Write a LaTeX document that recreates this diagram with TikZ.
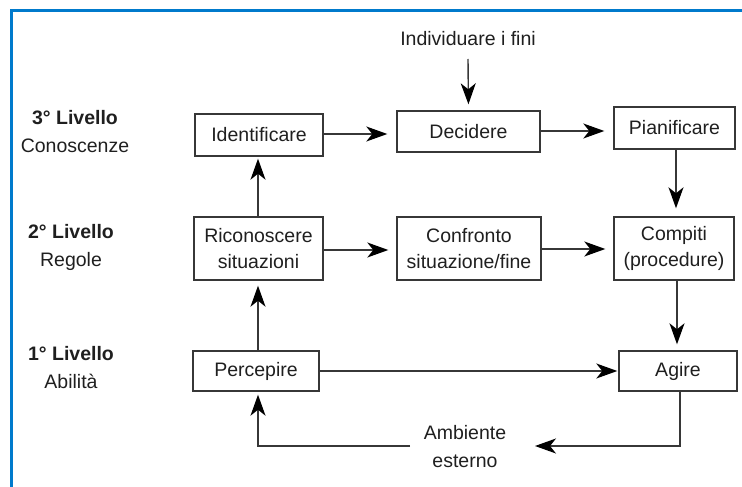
\documentclass[tikz,border=0pt]{standalone}
\usepackage{fontspec}
\setmainfont{Liberation Sans}
\usetikzlibrary{arrows.meta}
\definecolor{framec}{RGB}{0,122,204}
\definecolor{linec}{RGB}{55,55,55}
\tikzset{
  box/.style={draw=linec, line width=1.4pt, inner sep=0pt, align=center,
    font=\fontsize{19.5}{26}\selectfont, text=black!88},
  lbl/.style={inner sep=0pt, align=center, font=\fontsize{19.5}{28}\selectfont, text=black!88},
  conn/.style={draw=linec, line width=1.4pt,
    -{Stealth[length=21pt,width=15pt,inset=6pt,color=black]}},
  plain/.style={draw=linec, line width=1.4pt}
}
\begin{document}
\begin{tikzpicture}[x=1pt,y=-1pt]
\useasboundingbox (0,0) rectangle (742,487);
\draw[framec, line width=3pt] (742,11) -- (11,11) -- (11,487);

% level labels
\node[lbl] (l3) at (75,132) {\textbf{3° Livello}\\Conoscenze};
\node[lbl] (l2) at (71,247) {\textbf{2° Livello}\\Regole};
\node[lbl] (l1) at (71,368) {\textbf{1° Livello}\\Abilità};

% boxes
\node[box, minimum width=128pt, minimum height=42pt] (ident) at (259,135) {Identificare};
\node[box, minimum width=143pt, minimum height=41pt] (decid) at (468.5,131.5) {Decidere};
\node[box, minimum width=121pt, minimum height=42pt] (pian) at (674.5,128) {Pianificare};
\node[box, minimum width=129pt, minimum height=63pt] (ricon) at (258.5,248.5) {Riconoscere\\situazioni};
\node[box, minimum width=144pt, minimum height=63pt] (confr) at (469,248.5) {Confronto\\situazione/fine};
\node[box, minimum width=120pt, minimum height=63pt] (comp) at (674,248.5) {Compiti\\(procedure)};
\node[box, minimum width=126pt, minimum height=40pt] (percep) at (256,371) {Percepire};
\node[box, minimum width=118pt, minimum height=40pt] (agire) at (678,371) {Agire};

% free texts
\node[lbl] (fini) at (468,39) {Individuare i fini};
\node[lbl] (amb) at (465,447) {Ambiente\\esterno};

% connectors
\coordinate (finitop) at (468,59);
\draw[conn, shorten >=6pt] (finitop) -- (decid.north);
\draw[conn, shorten >=9pt] (ident.east |- 0,134) -- (decid.west |- 0,134);
\draw[conn, shorten >=9pt] (decid.east |- 0,131) -- (pian.west |- 0,131);
\draw[conn, shorten >=8pt] (pian.south -| 676,0) -- (comp.north -| 676,0);
\draw[conn, shorten >=8pt] (ricon.east |- 0,250) -- (confr.west |- 0,250);
\draw[conn, shorten >=8pt] (confr.east |- 0,249) -- (comp.west |- 0,249);
\draw[conn, shorten >=6pt] (comp.south -| 677,0) -- (agire.north -| 677,0);
\draw[conn, shorten >=2pt] (ricon.north -| 258,0) -- (ident.south -| 258,0);
\draw[conn, shorten >=5pt] (percep.north -| 258,0) -- (ricon.south -| 258,0);
\draw[conn, shorten >=1pt] (percep.east) -- (agire.west);
\coordinate (ambR) at (535,446);
\coordinate (ambL) at (410,446);
\draw[conn] (agire.south -| 680,0) |- (ambR);
\draw[conn, shorten >=3pt] (ambL) -| (percep.south -| 258,0);
\end{tikzpicture}
\end{document}
